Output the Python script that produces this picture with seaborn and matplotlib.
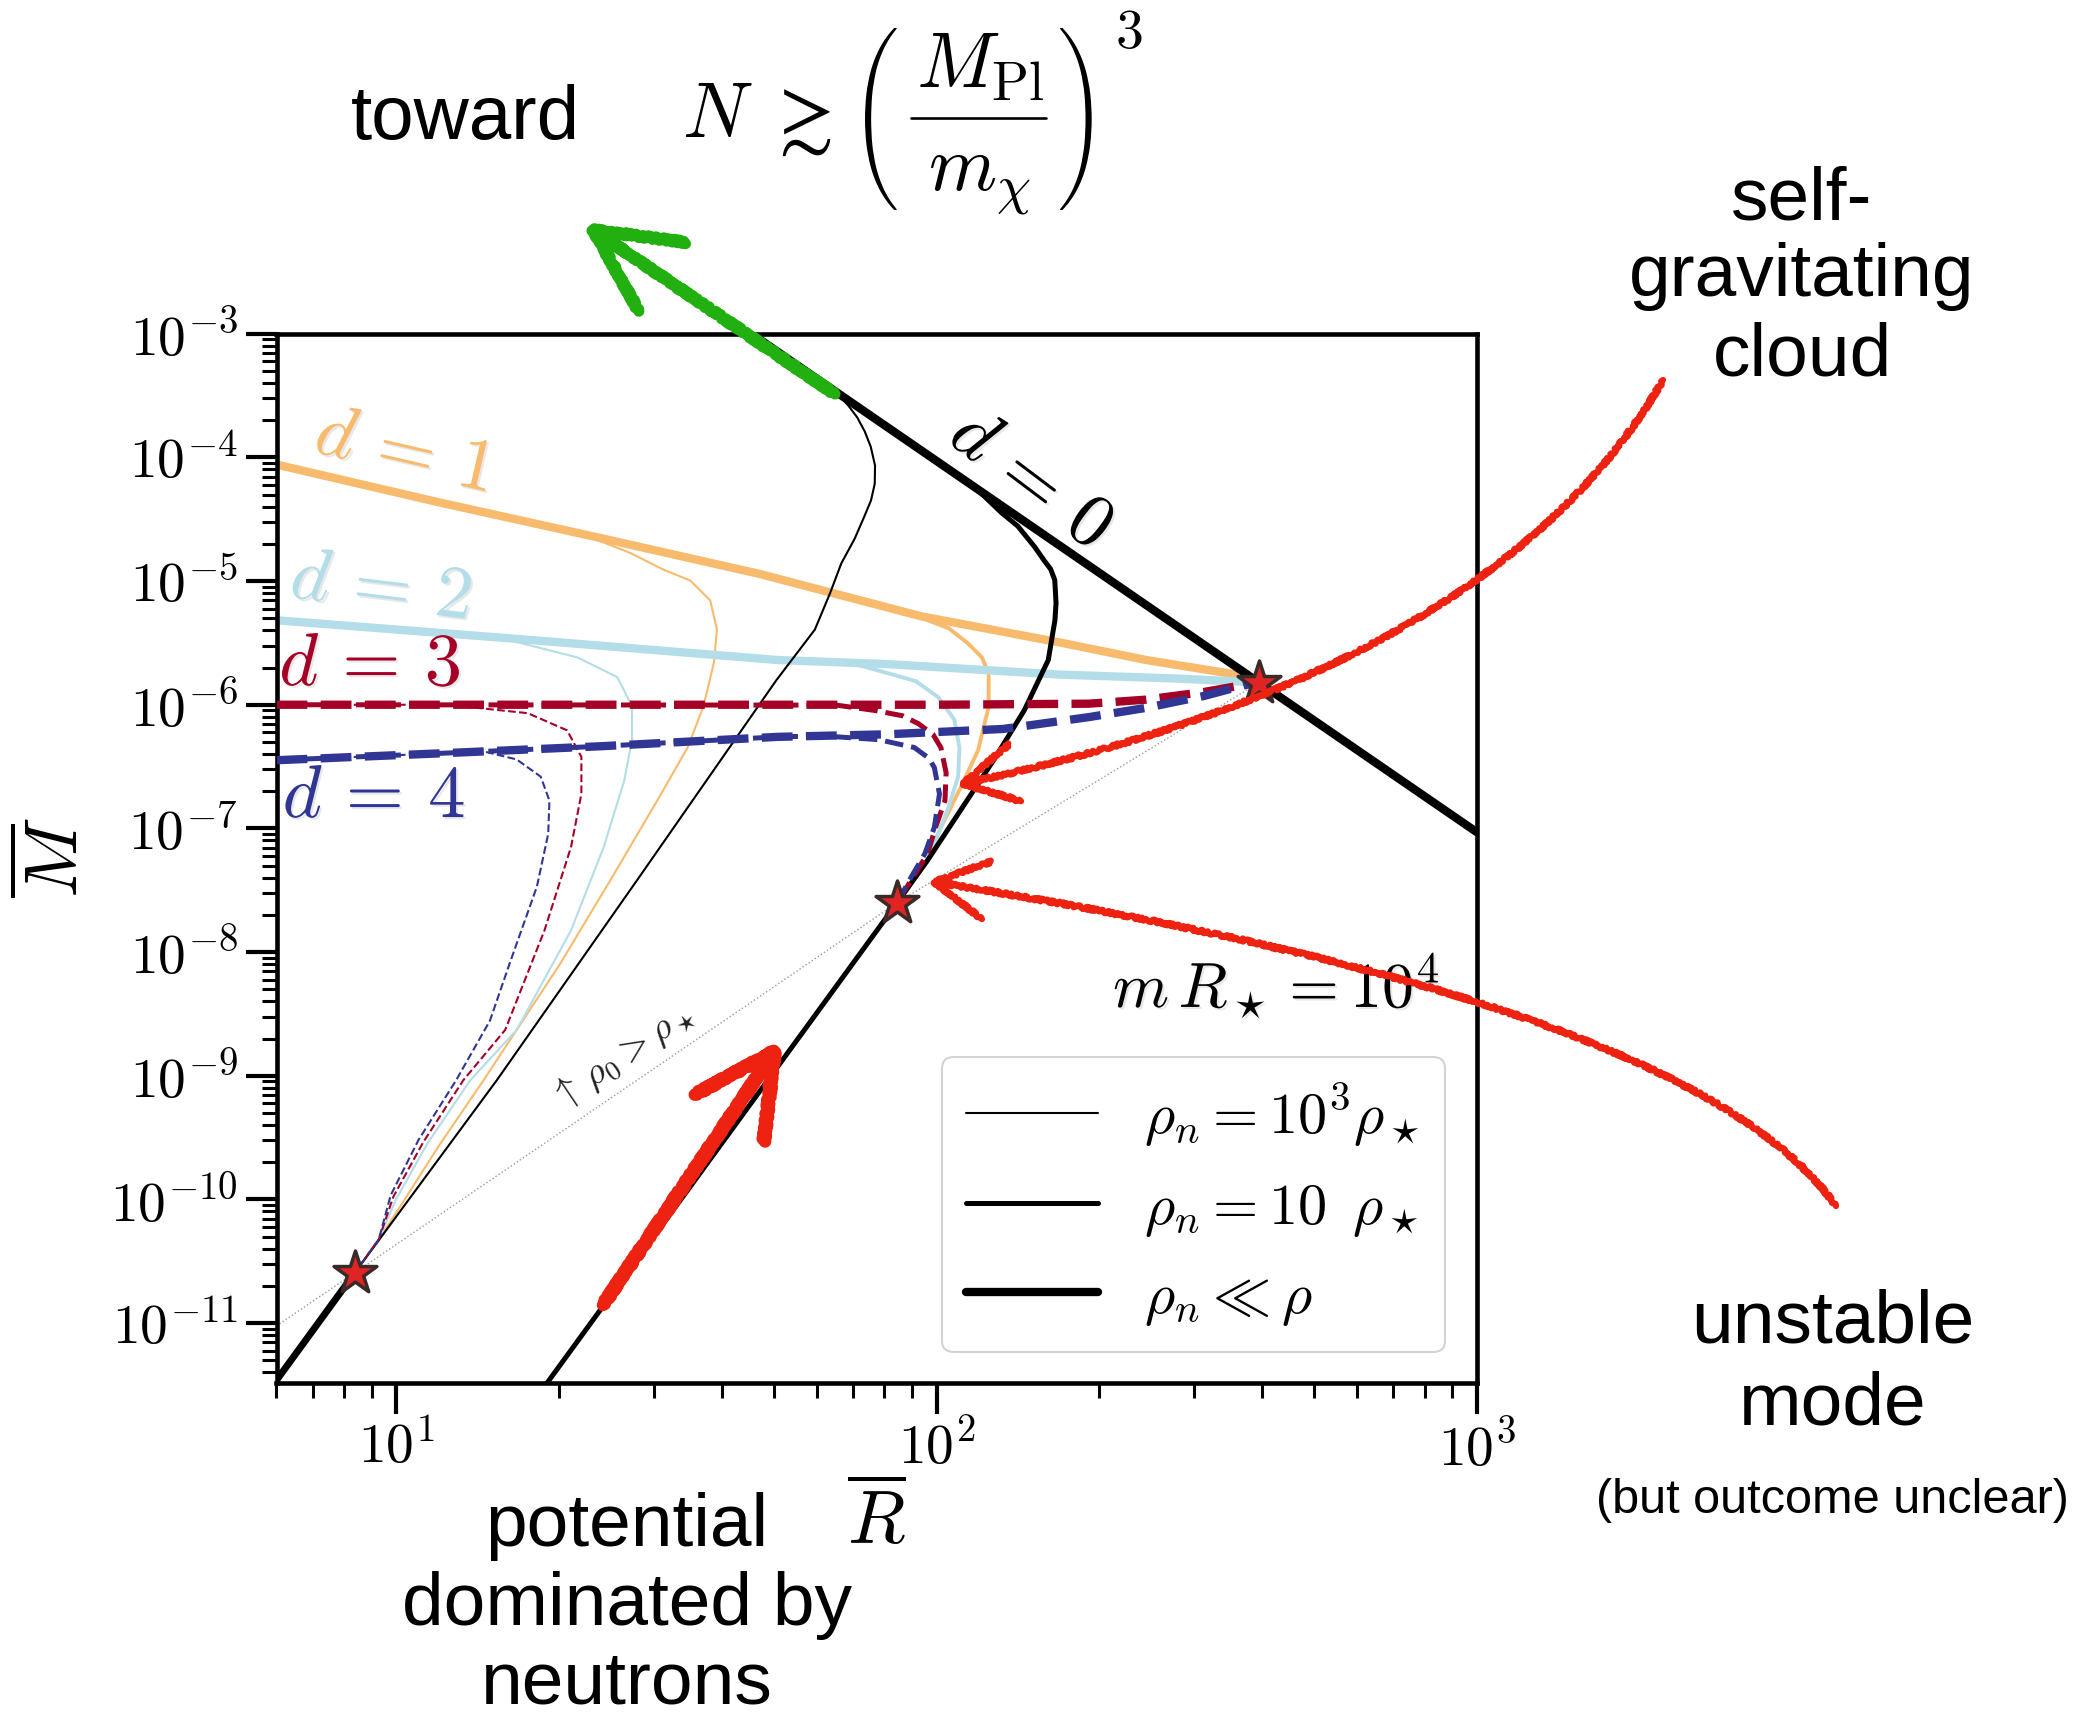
import numpy as np
import pandas as pd
import matplotlib
matplotlib.use("Agg")
import matplotlib.pyplot as plt
import matplotlib.patheffects as pe
from matplotlib.lines import Line2D
from matplotlib.patches import FancyArrowPatch, PathPatch
from matplotlib.path import Path
from matplotlib.textpath import TextPath
from matplotlib.transforms import Affine2D
from matplotlib.ticker import FixedLocator, LogLocator, FuncFormatter, NullFormatter
import seaborn as sns

# ---------------- data: (R-bar, M-bar) ----------------
# d = 0 line (thick)
R_d0 = [45.4, 395.0, 1000.0]
M_d0 = [1.0e-3, 1.51e-6, 9.3e-8]
# star markers
star_R = [8.38, 84.5, 395.0]
star_M = [2.56e-11, 2.51e-8, 1.51e-6]
# dotted rho_0 = rho_* line
dot_R = [6.0, 8.38, 84.5, 395.0]
dot_M = [9.5e-12, 2.56e-11, 2.51e-8, 1.51e-6]

# black curves
R_k_base = [5.5, 8.38]
M_k_base = [2.05e-12, 2.56e-11]
R_k_thin = [8.38, 15.34, 27.9, 50.5, 59.5, 63.5, 66.6, 70.5, 73.4, 75.6, 76.8, 76.9, 75.5, 73.6,
            71.3, 68.5, 65.5, 55.0]
M_k_thin = [2.56e-11, 9.2e-10, 3.82e-8, 1.58e-6, 4.05e-6, 8.0e-6, 1.39e-5, 2.2e-5, 3.30e-5, 4.5e-5,
            6.12e-5, 8.6e-5, 1.22e-4, 1.62e-4, 2.10e-4, 2.65e-4, 3.28e-4, 5.6e-4]
R_k_med = [17.5, 84.5, 96.2, 110.8, 127.7, 145.2, 160.9, 163.1, 165.5, 166.3, 165.4, 162.5, 158.2,
           151.8, 141.3, 131.9, 117.9, 100.0]
M_k_med = [2.0e-12, 2.51e-8, 5.53e-8, 1.41e-7, 3.61e-7, 8.99e-7, 2.30e-6, 3.3e-6, 4.8e-6,
           6.64e-6, 1.02e-5, 1.25e-5, 1.46e-5, 1.89e-5, 2.78e-5, 3.56e-5, 5.69e-5, 9.32e-5]

# d = 1 (orange)
R_d1_thick = [6.0, 11.96, 23.97, 47.1, 93.6, 170.1, 244.2, 313.1, 360.6, 395.0]
M_d1_thick = [8.75e-5, 4.34e-5, 2.22e-5, 1.14e-5, 5.19e-6, 3.17e-6, 2.30e-6, 1.93e-6, 1.75e-6, 1.51e-6]
R_d1_med = [6.0, 11.96, 23.97, 47.1, 73.0, 90.0, 105.3, 114.0, 121.3, 124.8, 124.8, 119.3,
            110.8, 101.8, 96.2, 84.5]
M_d1_med = [8.75e-5, 4.34e-5, 2.22e-5, 1.14e-5, 6.9e-6, 5.4e-6, 4.15e-6, 3.16e-6, 2.41e-6,
            1.79e-6, 9.66e-7, 4.28e-7, 2.15e-7, 1.02e-7, 5.53e-8, 2.51e-8]
R_d1_thin = [6.0, 11.96, 22.9, 27.0, 31.3, 35.0, 38.1, 39.2, 38.7, 37.0, 34.6, 30.7, 24.9,
             20.1, 14.5, 11.96, 10.1, 9.28, 8.38]
M_d1_thin = [8.75e-5, 4.34e-5, 2.25e-5, 1.70e-5, 1.23e-5, 1.01e-5, 6.97e-6, 4.06e-6, 2.19e-6,
             9.68e-7, 4.51e-7, 1.81e-7, 3.82e-8, 8.06e-9, 9.2e-10, 2.68e-10, 8.4e-11, 4.77e-11, 2.56e-11]

# d = 2 (light blue)
R_d2_thick = [6.0, 16.26, 50.7, 81.2, 170.1, 276.9, 353.1, 395.0]
M_d2_thick = [4.82e-6, 3.44e-6, 2.30e-6, 2.13e-6, 1.75e-6, 1.63e-6, 1.55e-6, 1.51e-6]
R_d2_med = [6.0, 16.26, 50.7, 69.0, 81.2, 91.5, 100.7, 107.8, 110.2, 109.6, 104.7, 100.7, 96.2, 84.5]
M_d2_med = [4.82e-6, 3.44e-6, 2.30e-6, 2.19e-6, 1.80e-6, 1.55e-6, 1.15e-6, 7.57e-7, 4.51e-7,
            2.62e-7, 1.41e-7, 9.06e-8, 5.53e-8, 2.51e-8]
R_d2_thin = [6.0, 14.17, 16.23, 21.65, 25.65, 27.3, 27.3, 26.4, 24.2, 21.05, 16.7, 13.7,
             11.4, 9.98, 9.28, 8.38]
M_d2_thin = [4.82e-6, 3.6e-6, 3.32e-6, 2.41e-6, 1.67e-6, 9.68e-7, 5.22e-7, 2.43e-7, 7.08e-8,
             1.50e-8, 2.35e-9, 9.2e-10, 2.81e-10, 9.97e-11, 4.77e-11, 2.56e-11]

# d = 3 (dark red, dashed)
R_d3_thick = [6.0, 100.0, 191.5, 244.2, 313.1, 371.5, 395.0]
M_d3_thick = [1.0e-6, 1.0e-6, 1.02e-6, 1.10e-6, 1.27e-6, 1.45e-6, 1.51e-6]
R_d3_med = [6.0, 65.2, 76.8, 86.4, 92.5, 98.4, 101.8, 104.1, 103.6, 99.5, 96.2, 84.5]
M_d3_med = [1.0e-6, 9.93e-7, 8.99e-7, 8.15e-7, 7.03e-7, 5.77e-7, 4.51e-7, 2.82e-7, 1.68e-7,
            1.02e-7, 6.25e-8, 2.51e-8]
R_d3_thin = [6.0, 11.96, 14.1, 17.5, 20.7, 22.0, 22.0, 21.05, 18.8, 15.9, 13.3, 11.2, 9.87, 9.28, 8.38]
M_d3_thin = [1.0e-6, 1.0e-6, 9.44e-7, 8.55e-7, 6.21e-7, 3.79e-7, 1.90e-7, 7.08e-8, 1.50e-8,
             2.35e-9, 9.2e-10, 2.88e-10, 1.05e-10, 4.77e-11, 2.56e-11]

# d = 4 (dark blue, dashed)
R_d4_thick = [6.0, 11.96, 23.97, 50.8, 81.2, 132.7, 191.5, 244.2, 313.1, 371.5, 395.0]
M_d4_thick = [3.56e-7, 4.04e-7, 4.62e-7, 5.50e-7, 5.77e-7, 6.37e-7, 7.95e-7, 9.44e-7, 1.18e-6,
              1.44e-6, 1.51e-6]
R_d4_med = [6.0, 11.96, 23.97, 50.8, 61.6, 78.1, 90.9, 96.7, 99.0, 101.2, 99.0, 95.1, 89.9, 84.5]
M_d4_med = [3.56e-7, 4.04e-7, 4.62e-7, 5.50e-7, 5.6e-7, 5.22e-7, 4.51e-7, 3.70e-7, 3.11e-7,
            1.90e-7, 1.02e-7, 6.25e-8, 4.11e-8, 2.51e-8]
R_d4_thin = [6.0, 11.96, 14.5, 16.7, 18.5, 19.2, 19.1, 18.2, 16.2, 14.9, 12.9, 10.99, 9.76, 9.28, 8.38]
M_d4_thin = [3.56e-7, 4.04e-7, 4.2e-7, 3.61e-7, 2.62e-7, 1.68e-7, 9.06e-8, 3.38e-8, 8.07e-9,
             2.79e-9, 9.2e-10, 3.03e-10, 1.08e-10, 4.77e-11, 2.56e-11]

x_ticks = [10, 100, 1000]
y_ticks = [1e-11, 1e-10, 1e-9, 1e-8, 1e-7, 1e-6, 1e-5, 1e-4, 1e-3]
legend_labels = [r"$\rho_n = 10^3\rho_\star$", r"$\rho_n = 10\ \,\rho_\star$", r"$\rho_n \ll \rho$"]

# ---------------- style ----------------
sns.set_theme(style="white")
plt.rcParams["font.family"] = ["DejaVu Sans"]
plt.rcParams["mathtext.fontset"] = "cm"
for k in ["text.color", "axes.labelcolor", "xtick.color", "ytick.color", "axes.edgecolor"]:
    plt.rcParams[k] = "black"

C_OR = "#f8bb6e"
C_LB = "#b3dde8"
C_RD = "#a50026"
C_BL = "#313695"
LW_THICK, LW_MED, LW_THIN = 6.0, 3.6, 1.5

W, H = 2078, 1719
fig = plt.figure(figsize=(W / 100, H / 100), dpi=100)
fig.patch.set_facecolor("white")
ax = fig.add_axes([276.5 / W, 1 - 1382.7 / H, 1200.5 / W, 1049 / H])
ax.set_xscale("log")
ax.set_yscale("log")
ax.set_facecolor("white")


def fx(px):
    return px / W


def fy(py):
    return 1 - py / H


def line(R, M, color, lw, ls="-", z=2):
    sns.lineplot(x=R, y=M, sort=False, estimator=None, color=color, lw=lw,
                 linestyle=ls, ax=ax, zorder=z, legend=False)


# dotted rho0 line
line(dot_R, dot_M, "#9a9a9a", 1.0, ":", 1)

# solid coloured curves
for R, M, lw in [(R_d1_thick, M_d1_thick, LW_THICK), (R_d1_med, M_d1_med, 2.8), (R_d1_thin, M_d1_thin, LW_THIN)]:
    line(R, M, C_OR, lw, "-", 2)
for R, M, lw in [(R_d2_thick, M_d2_thick, LW_THICK), (R_d2_med, M_d2_med, 2.8), (R_d2_thin, M_d2_thin, LW_THIN)]:
    line(R, M, C_LB, lw, "-", 2)

# black curves
line(R_d0, M_d0, "black", LW_THICK, "-", 3)
line(R_k_base, M_k_base, "black", 5.0, "-", 3)
line(R_k_med, M_k_med, "black", LW_MED, "-", 3)
line(R_k_thin, M_k_thin, "black", LW_THIN, "-", 3)

# dashed coloured curves
for R, M, lw in [(R_d3_thick, M_d3_thick, LW_THICK), (R_d3_med, M_d3_med, LW_MED), (R_d3_thin, M_d3_thin, LW_THIN)]:
    line(R, M, C_RD, lw, "--", 4)
for R, M, lw in [(R_d4_thick, M_d4_thick, LW_THICK), (R_d4_med, M_d4_med, LW_MED), (R_d4_thin, M_d4_thin, LW_THIN)]:
    line(R, M, C_BL, lw, "--", 4)

# stars
sns.scatterplot(x=star_R, y=star_M, marker="*", s=1050, color="#e02424",
                edgecolor="#3a2a2a", linewidth=2.5, ax=ax, zorder=6, legend=False)

ax.set_xlim(6, 1000)
ax.set_ylim(3.3e-12, 1e-3)

fmt = FuncFormatter(lambda v, p: r"$10^{%d}$" % int(round(np.log10(v))))
ax.xaxis.set_major_locator(FixedLocator(x_ticks))
ax.yaxis.set_major_locator(FixedLocator(y_ticks))
ax.xaxis.set_minor_locator(LogLocator(base=10, subs=np.arange(2, 10), numticks=30))
ax.yaxis.set_minor_locator(LogLocator(base=10, subs=np.arange(2, 10), numticks=30))
ax.xaxis.set_major_formatter(fmt)
ax.yaxis.set_major_formatter(fmt)
ax.xaxis.set_minor_formatter(NullFormatter())
ax.yaxis.set_minor_formatter(NullFormatter())
ax.tick_params(which="major", direction="out", length=22, width=3, labelsize=40, pad=6,
               bottom=True, left=True, top=False, right=False, colors="black")
ax.tick_params(which="minor", direction="out", length=11, width=2.2,
               bottom=True, left=True, top=False, right=False, colors="black")
for s in ax.spines.values():
    s.set_linewidth(3.3)
    s.set_color("black")

ax.set_xlabel(r"$\overline{R}$", fontsize=54, labelpad=4, color="black")
ax.set_ylabel(r"$\overline{M}$", fontsize=54, labelpad=12, color="black")

# legend
handles = [Line2D([], [], color="black", lw=LW_THIN),
           Line2D([], [], color="black", lw=LW_MED),
           Line2D([], [], color="black", lw=LW_THICK)]
leg = ax.legend(handles, legend_labels, loc="lower right", bbox_to_anchor=(0.973, 0.029),
                borderaxespad=0, fontsize=42, handlelength=2.25, handletextpad=0.8,
                labelspacing=0.5, borderpad=0.42, frameon=True, fancybox=True,
                framealpha=0.85, edgecolor="#cccccc")
leg.get_frame().set_linewidth(1.5)
for t in leg.get_texts():
    t.set_color("black")

# in-plot labels with a soft shadow
shadow = [pe.withSimplePatchShadow(offset=(1.5, -1.5), shadow_rgbFace="0.6", alpha=0.22)]
lab_kw = dict(transform=fig.transFigure, ha="center", va="center", path_effects=shadow)
fig.text(fx(404), fy(452), r"$d\, =\, 1$", color=C_OR, fontsize=54, rotation=-13, **lab_kw)
fig.text(fx(381), fy(588), r"$d\, =\, 2$", color=C_LB, fontsize=54, rotation=-7, **lab_kw)
fig.text(fx(370), fy(665), r"$d\, =\, 3$", color=C_RD, fontsize=54, **lab_kw)
fig.text(fx(374), fy(797), r"$d\, =\, 4$", color=C_BL, fontsize=54, **lab_kw)
fig.text(fx(1031), fy(480), r"$d\, =\, 0$", color="black", fontsize=54, rotation=-37, **lab_kw)
fig.text(fx(1113), fy(1007), r"$m\,R_\star = 10^4$", color="black", fontsize=46,
         transform=fig.transFigure, ha="left", va="baseline", path_effects=shadow)
fig.text(fx(623), fy(1056), r"$\uparrow\,\rho_0 > \rho_\star$", color="#222222", fontsize=28,
         rotation=34, transform=fig.transFigure, ha="center", va="center")

# ---------------- outside annotations ----------------
sans = ["Liberation Sans", "DejaVu Sans"]
fig.text(fx(465), fy(139), "toward", fontsize=55, family=sans, ha="center", va="baseline", color="black")

# formula  N >~ (M_Pl / m_chi)^3 built from pieces (display-style spacing)
fig.text(fx(682), fy(137), r"$N$", fontsize=56, ha="left", va="baseline", color="black")
fig.text(fx(798), fy(121), r"$\gtrsim$", fontsize=58, ha="center", va="center", color="black")
fig.text(fx(980), fy(88), r"$M_{\rm Pl}$", fontsize=56, ha="center", va="baseline", color="black")
fig.text(fx(979), fy(190), r"$m_\chi$", fontsize=56, ha="center", va="baseline", color="black")
fig.text(fx(1115), fy(48), r"$3$", fontsize=40, ha="left", va="baseline", color="black")
fig.add_artist(Line2D([fx(911), fx(1046)], [fy(118), fy(118)], transform=fig.transFigure,
                      color="black", lw=1.9))

# tall parentheses taken from a mathtext \left( glyph outline (right one mirrored)
tp = TextPath((0, 0), r"$\left(\dfrac{\dfrac{M}{M}}{\dfrac{M}{M}}\right)$", size=100)
polys = [np.asarray(p) for p in tp.to_polygons() if len(p) > 2]
allx = np.concatenate([p[:, 0] for p in polys])
gx0, gx1 = allx.min(), allx.max()
span = gx1 - gx0
left_polys = [p for p in polys if p[:, 0].mean() < gx0 + 0.15 * span]


def place_paren(group, x_left, y_top, height, mirror=False):
    if not group:
        return
    pts = np.concatenate(group)
    px0, px1 = pts[:, 0].min(), pts[:, 0].max()
    py0, py1 = pts[:, 1].min(), pts[:, 1].max()
    sc = height / (py1 - py0)
    path = Path.make_compound_path(*[Path(p, closed=True) for p in group])
    if mirror:
        tr = Affine2D().translate(-px1, -py0).scale(-sc, sc)
    else:
        tr = Affine2D().translate(-px0, -py0).scale(sc, sc)
    tr = tr.translate(x_left, H - y_top - height)
    fig.add_artist(PathPatch(path, transform=tr, facecolor="black", edgecolor="none"))


place_paren(left_polys, 865, 28, 182)
place_paren(left_polys, 1060, 28, 182, mirror=True)

for txt, y in [("self-", 219), ("gravitating", 296), ("cloud", 375)]:
    fig.text(fx(1802), fy(y), txt, fontsize=54, family=sans, ha="center", va="baseline", color="black")
for txt, y in [("unstable", 1342), ("mode", 1424)]:
    fig.text(fx(1833), fy(y), txt, fontsize=54, family=sans, ha="center", va="baseline", color="black")
fig.text(fx(1832), fy(1513), "(but outcome unclear)", fontsize=35, family=sans, ha="center",
         va="baseline", color="black")
for txt, y in [("potential", 1546), ("dominated by", 1625), ("neutrons", 1703)]:
    fig.text(fx(627), fy(y), txt, fontsize=54, family=sans, ha="center", va="baseline", color="black")

# hand-drawn style arrows
RED = "#ee2211"
GREEN = "#22b011"


def arrow(p0, p1, color, lw, conn, hl, hw):
    a = FancyArrowPatch((fx(p0[0]), fy(p0[1])), (fx(p1[0]), fy(p1[1])),
                        transform=fig.transFigure, connectionstyle=conn,
                        arrowstyle=f"->,head_length={hl},head_width={hw}",
                        color=color, lw=lw, mutation_scale=20, shrinkA=0, shrinkB=0,
                        capstyle="round", joinstyle="round", zorder=10)
    a.set_sketch_params(scale=1.5, length=6, randomness=4)
    fig.add_artist(a)


arrow((1663, 380), (957, 785), RED, 4.5, "angle3,angleA=60,angleB=12", 1.9, 1.05)
arrow((1836, 1206), (928, 881), RED, 4.5, "angle3,angleA=125,angleB=171", 1.9, 1.05)
arrow((603, 1305), (782, 1040), RED, 9, "arc3,rad=0", 2.9, 1.5)
arrow((835, 394), (583, 223), GREEN, 8, "arc3,rad=0", 3.0, 1.5)

fig.savefig("out.png", dpi=100, facecolor="white")
